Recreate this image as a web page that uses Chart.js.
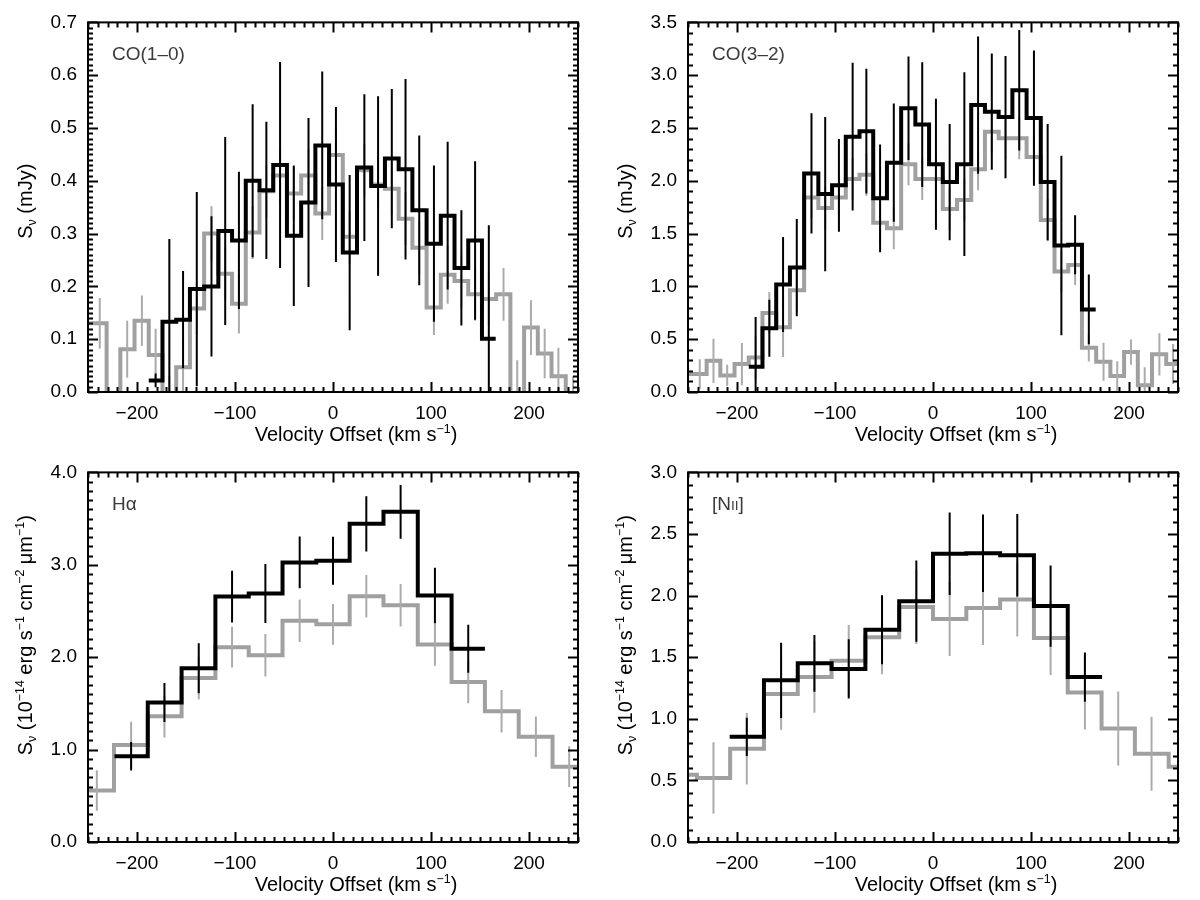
<!DOCTYPE html>
<html>
<head>
<meta charset="utf-8">
<title>Velocity profiles</title>
<script src="https://cdn.jsdelivr.net/npm/chart.js@4.4.1/dist/chart.umd.min.js"></script>
<style>
  body { margin: 0; background: #fff; }
  #wrap { position: relative; width: 1200px; height: 900px; }
  .panel { position: absolute; width: 600px; height: 450px; }
</style>
</head>
<body>
<div id="wrap">
  <div class="panel" style="left:0;top:0"><canvas id="co10" width="600" height="450"></canvas></div>
  <div class="panel" style="left:600px;top:0"><canvas id="co32" width="600" height="450"></canvas></div>
  <div class="panel" style="left:0;top:450px"><canvas id="ha" width="600" height="450"></canvas></div>
  <div class="panel" style="left:600px;top:450px"><canvas id="nii" width="600" height="450"></canvas></div>
</div>
<script>
const FONT = "'Liberation Sans', Arial, Helvetica, sans-serif";

// shared x axis
const VEL_TICKS = [-200, -100, 0, 100, 200];

// CO(1-0)
const CO10_Y_TICKS = [0.0, 0.1, 0.2, 0.3, 0.4, 0.5, 0.6, 0.7];
const CO10_BLACK_VEL = [-181, -167, -153, -139, -124, -110, -96, -82, -68, -54, -40, -25, -11, 3, 17, 32, 46, 60, 74, 88, 103, 117, 131, 145, 159];
const CO10_BLACK_FLUX = [0.022, 0.133, 0.137, 0.195, 0.200, 0.305, 0.287, 0.400, 0.382, 0.430, 0.296, 0.359, 0.467, 0.393, 0.264, 0.425, 0.390, 0.442, 0.422, 0.344, 0.281, 0.334, 0.235, 0.287, 0.101];
const CO10_BLACK_ERR = [0.013, 0.157, 0.092, 0.184, 0.133, 0.178, 0.130, 0.145, 0.130, 0.195, 0.133, 0.160, 0.140, 0.147, 0.147, 0.139, 0.170, 0.132, 0.171, 0.142, 0.148, 0.140, 0.109, 0.150, 0.215];
const CO10_GRAY_VEL = [-252, -238, -224, -210, -195, -181, -167, -153, -139, -124, -110, -96, -82, -68, -54, -40, -25, -11, 3, 17, 32, 46, 60, 74, 88, 103, 117, 131, 145, 159, 174, 188, 202, 216, 230, 245];
const CO10_GRAY_FLUX = [0.130, 0.130, -0.060, 0.081, 0.135, 0.070, -0.020, 0.047, 0.158, 0.300, 0.224, 0.167, 0.302, 0.380, 0.410, 0.376, 0.410, 0.338, 0.449, 0.294, 0.420, 0.393, 0.385, 0.328, 0.273, 0.160, 0.222, 0.210, 0.185, 0.176, 0.185, -0.020, 0.122, 0.073, 0.030, -0.020];
const CO10_GRAY_ERR = [0.050, 0.048, 0.050, 0.054, 0.048, 0.050, 0.050, 0.050, 0.050, 0.052, 0.050, 0.056, 0.050, 0.050, 0.050, 0.050, 0.050, 0.050, 0.050, 0.050, 0.050, 0.050, 0.050, 0.050, 0.050, 0.052, 0.055, 0.050, 0.050, 0.050, 0.050, 0.080, 0.052, 0.047, 0.054, 0.050];

// CO(3-2)
const CO32_Y_TICKS = [0.0, 0.5, 1.0, 1.5, 2.0, 2.5, 3.0, 3.5];
const CO32_BLACK_VEL = [-181, -167, -153, -139, -124, -110, -96, -82, -68, -54, -40, -25, -11, 3, 17, 32, 46, 60, 74, 88, 103, 117, 131, 145, 159];
const CO32_BLACK_FLUX = [0.24, 0.603, 1.018, 1.178, 2.07, 1.874, 1.957, 2.418, 2.47, 1.834, 2.172, 2.686, 2.532, 2.157, 1.988, 2.157, 2.717, 2.655, 2.603, 2.858, 2.594, 1.988, 1.388, 1.394, 0.782];
const CO32_BLACK_ERR = [0.47, 0.27, 0.45, 0.46, 0.57, 0.73, 0.44, 0.70, 0.59, 0.51, 0.56, 0.49, 0.59, 0.62, 0.55, 0.87, 0.65, 0.55, 0.58, 0.57, 0.64, 0.55, 0.85, 0.28, 0.33];
const CO32_GRAY_VEL = [-252, -238, -224, -210, -195, -181, -167, -153, -139, -124, -110, -96, -82, -68, -54, -40, -25, -11, 3, 17, 32, 46, 60, 74, 88, 103, 117, 131, 145, 159, 174, 188, 202, 216, 231, 245];
const CO32_GRAY_FLUX = [0.17, 0.17, 0.295, 0.157, 0.265, 0.326, 0.748, 0.612, 0.963, 1.843, 1.742, 1.843, 2.018, 2.058, 1.603, 1.551, 2.157, 2.018, 2.018, 1.732, 1.818, 2.11, 2.465, 2.403, 2.403, 2.225, 1.628, 1.142, 1.203, 0.418, 0.286, 0.151, 0.378, 0.065, 0.357, 0.265];
const CO32_GRAY_ERR = [0.15, 0.14, 0.21, 0.10, 0.20, 0.20, 0.20, 0.28, 0.20, 0.20, 0.20, 0.20, 0.20, 0.20, 0.20, 0.20, 0.20, 0.20, 0.20, 0.20, 0.20, 0.20, 0.20, 0.20, 0.20, 0.20, 0.20, 0.20, 0.19, 0.13, 0.18, 0.14, 0.12, 0.17, 0.20, 0.19];

// H-alpha
const HA_Y_TICKS = [0.0, 1.0, 2.0, 3.0, 4.0];
const HA_BLACK_VEL = [-206, -172, -137, -103, -69, -34, 0, 34, 69, 104, 138];
const HA_BLACK_FLUX = [0.928, 1.51, 1.88, 2.656, 2.69, 3.026, 3.044, 3.443, 3.573, 2.667, 2.092];
const HA_BLACK_ERR = [0.155, 0.21, 0.27, 0.28, 0.32, 0.28, 0.26, 0.30, 0.29, 0.30, 0.26];
const HA_GRAY_VEL = [-241, -206, -172, -137, -103, -69, -34, 0, 34, 69, 104, 138, 172, 207, 241];
const HA_GRAY_FLUX = [0.557, 1.051, 1.362, 1.774, 2.109, 2.021, 2.395, 2.356, 2.66, 2.561, 2.137, 1.732, 1.414, 1.139, 0.815];
const HA_GRAY_ERR = [0.22, 0.25, 0.23, 0.23, 0.22, 0.23, 0.23, 0.22, 0.23, 0.23, 0.23, 0.23, 0.23, 0.22, 0.22];

// [NII]
const NII_Y_TICKS = [0.0, 0.5, 1.0, 1.5, 2.0, 2.5, 3.0];
const NII_BLACK_VEL = [-190, -155, -121, -86, -52, -17, 17, 51, 86, 120, 155];
const NII_BLACK_FLUX = [0.854, 1.312, 1.45, 1.405, 1.722, 1.955, 2.339, 2.344, 2.328, 1.915, 1.339];
const NII_BLACK_ERR = [0.155, 0.305, 0.23, 0.24, 0.28, 0.33, 0.335, 0.315, 0.335, 0.33, 0.20];
const NII_GRAY_VEL = [-258, -224, -190, -155, -121, -86, -52, -17, 17, 51, 86, 120, 155, 189, 223, 258];
const NII_GRAY_FLUX = [0.545, 0.519, 0.757, 1.201, 1.339, 1.471, 1.661, 1.907, 1.81, 1.9, 1.968, 1.656, 1.214, 0.921, 0.717, 0.611];
const NII_GRAY_ERR = [0.29, 0.29, 0.29, 0.29, 0.29, 0.29, 0.30, 0.30, 0.30, 0.30, 0.30, 0.30, 0.30, 0.30, 0.30, 0.30];

// text pieces (sub/sup handled by the frame plugin)
const X_TITLE = [{t: 'Velocity Offset (km s'}, {t: '\u22121', sup: true}, {t: ')'}];
const CO_Y_TITLE = [{t: 'S'}, {t: '\u03bd', sub: true}, {t: ' (mJy)'}];
const LINE_Y_TITLE = [{t: 'S'}, {t: '\u03bd', sub: true}, {t: ' (10'}, {t: '\u221214', sup: true}, {t: ' erg s'}, {t: '\u22121', sup: true},
  {t: ' cm'}, {t: '\u22122', sup: true}, {t: ' \u03bcm'}, {t: '\u22121', sup: true}, {t: ')'}];

/**
 * Histogram outline: one point per left bin edge, plus the closing right edge
 */
function histPoints(vel, flux) {
  const pts = [];
  for (let i = 0; i < vel.length; i++) {
    const left = i === 0 ? vel[0] - (vel[1] - vel[0]) / 2 : (vel[i - 1] + vel[i]) / 2;
    pts.push({x: left, y: flux[i]});
  }
  const n = vel.length - 1;
  pts.push({x: vel[n] + (vel[n] - vel[n - 1]) / 2, y: flux[n]});
  return pts;
}

/**
 * Vertical error bars as broken line segments
 */
function errPoints(vel, flux, err) {
  const pts = [];
  vel.forEach((v, i) => {
    pts.push({x: v, y: flux[i] - err[i]}, {x: v, y: flux[i] + err[i]}, {x: v, y: null});
  });
  return pts;
}

function drawRuns(ctx, runs, x, y, size, center) {
  const parts = runs.map(r => {
    const s = (r.sub || r.sup) ? size * 0.62 : (r.small ? size * 0.72 : size);
    ctx.font = s + 'px ' + FONT;
    return {r, s, w: ctx.measureText(r.t).width};
  });
  const total = parts.reduce((a, p) => a + p.w, 0);
  let cx = center ? x - total / 2 : x;
  parts.forEach(p => {
    ctx.font = p.s + 'px ' + FONT;
    let dy = 0;
    if (p.r.sup) dy = -size * 0.40;
    if (p.r.sub) dy = size * 0.22;
    ctx.fillText(p.r.t, cx, y + dy);
    cx += p.w;
  });
}

// Box frame with inward major/minor ticks, axis titles and panel label
const panelFrame = {
  id: 'panelFrame',
  afterDatasetsDraw(chart, args, opts) {
    const {ctx, chartArea: a, scales: {x, y}} = chart;
    ctx.save();
    ctx.strokeStyle = '#000';
    ctx.lineWidth = 2;
    ctx.lineCap = 'butt';
    ctx.beginPath();

    const xn = Math.round((x.max - x.min) / 10);
    for (let i = 0; i <= xn; i++) {
      const v = x.min + i * 10;
      const len = v % 100 === 0 ? 10 : 5;
      const px = Math.round(x.getPixelForValue(v)) + 0.5;
      ctx.moveTo(px, a.bottom); ctx.lineTo(px, a.bottom - len);
      ctx.moveTo(px, a.top); ctx.lineTo(px, a.top + len);
    }
    const yn = Math.round((y.max - y.min) / opts.yMinor);
    const per = Math.round(opts.yMajor / opts.yMinor);
    for (let i = 0; i <= yn; i++) {
      const v = y.min + i * opts.yMinor;
      const len = i % per === 0 ? 10 : 5;
      const py = Math.round(y.getPixelForValue(v)) + 0.5;
      ctx.moveTo(a.left, py); ctx.lineTo(a.left + len, py);
      ctx.moveTo(a.right, py); ctx.lineTo(a.right - len, py);
    }
    ctx.stroke();
    ctx.strokeRect(a.left, a.top, a.right - a.left, a.bottom - a.top);

    ctx.fillStyle = '#000';
    ctx.textBaseline = 'alphabetic';
    drawRuns(ctx, X_TITLE, (a.left + a.right) / 2 + 23, a.bottom + 49, 20, true);

    ctx.save();
    ctx.translate(32, (a.top + a.bottom) / 2 - opts.yTitleShift);
    ctx.rotate(-Math.PI / 2);
    drawRuns(ctx, opts.yTitle, 0, 0, 20, true);
    ctx.restore();

    ctx.fillStyle = '#3a3a3a';
    drawRuns(ctx, opts.label, a.left + 24, a.top + 38, 19, false);
    ctx.restore();
  }
};

function makePanel(canvasId, p) {
  const ctx = document.getElementById(canvasId);
  return new Chart(ctx, {
    type: 'line',
    data: {
      datasets: [
        {
          data: errPoints(p.blackVel, p.blackFlux, p.blackErr),
          borderColor: '#000000',
          borderWidth: 2,
          clip: 0,
          order: 0
        },
        {
          data: histPoints(p.blackVel, p.blackFlux),
          borderColor: '#000000',
          borderWidth: 4,
          stepped: 'before',
          clip: 0,
          order: 1
        },
        {
          data: errPoints(p.grayVel, p.grayFlux, p.grayErr),
          borderColor: '#ababab',
          borderWidth: 2,
          clip: 0,
          order: 2
        },
        {
          data: histPoints(p.grayVel, p.grayFlux),
          borderColor: '#a0a0a0',
          borderWidth: 4,
          stepped: 'before',
          clip: 0,
          order: 3
        }
      ]
    },
    options: {
      responsive: false,
      animation: false,
      events: [],
      layout: {
        padding: {left: 0, top: 13, right: 22, bottom: 0}
      },
      elements: {
        point: {radius: 0},
        line: {tension: 0, fill: false, borderCapStyle: 'butt', borderJoinStyle: 'miter'}
      },
      plugins: {
        legend: {display: false},
        tooltip: {enabled: false},
        panelFrame: {
          yMajor: p.yTicks[1] - p.yTicks[0],
          yMinor: p.yMinor,
          yTitle: p.yTitle,
          yTitleShift: p.yTitleShift,
          label: p.label
        }
      },
      scales: {
        x: {
          type: 'linear',
          min: -250,
          max: 250,
          afterBuildTicks: s => { s.ticks = VEL_TICKS.map(v => ({value: v})); },
          afterFit: s => { s.height = 58; },
          grid: {display: false, drawTicks: false},
          border: {display: false},
          ticks: {
            padding: 10,
            color: '#000',
            maxRotation: 0,
            font: {family: FONT, size: 19},
            callback: v => String(v).replace('-', '\u2212')
          }
        },
        y: {
          type: 'linear',
          min: 0,
          max: p.yTicks[p.yTicks.length - 1],
          afterBuildTicks: s => { s.ticks = p.yTicks.map(v => ({value: v})); },
          afterFit: s => { s.width = 88; },
          grid: {display: false, drawTicks: false},
          border: {display: false},
          ticks: {
            padding: 11,
            color: '#000',
            font: {family: FONT, size: 19},
            callback: v => Number(v).toFixed(1)
          }
        }
      }
    },
    plugins: [panelFrame]
  });
}

makePanel('co10', {
  blackVel: CO10_BLACK_VEL, blackFlux: CO10_BLACK_FLUX, blackErr: CO10_BLACK_ERR,
  grayVel: CO10_GRAY_VEL, grayFlux: CO10_GRAY_FLUX, grayErr: CO10_GRAY_ERR,
  yTicks: CO10_Y_TICKS, yMinor: 0.01,
  yTitle: CO_Y_TITLE, yTitleShift: 6,
  label: [{t: 'CO(1\u20130)'}]
});

makePanel('co32', {
  blackVel: CO32_BLACK_VEL, blackFlux: CO32_BLACK_FLUX, blackErr: CO32_BLACK_ERR,
  grayVel: CO32_GRAY_VEL, grayFlux: CO32_GRAY_FLUX, grayErr: CO32_GRAY_ERR,
  yTicks: CO32_Y_TICKS, yMinor: 0.1,
  yTitle: CO_Y_TITLE, yTitleShift: 6,
  label: [{t: 'CO(3\u20132)'}]
});

makePanel('ha', {
  blackVel: HA_BLACK_VEL, blackFlux: HA_BLACK_FLUX, blackErr: HA_BLACK_ERR,
  grayVel: HA_GRAY_VEL, grayFlux: HA_GRAY_FLUX, grayErr: HA_GRAY_ERR,
  yTicks: HA_Y_TICKS, yMinor: 0.1,
  yTitle: LINE_Y_TITLE, yTitleShift: 22,
  label: [{t: 'H\u03b1'}]
});

makePanel('nii', {
  blackVel: NII_BLACK_VEL, blackFlux: NII_BLACK_FLUX, blackErr: NII_BLACK_ERR,
  grayVel: NII_GRAY_VEL, grayFlux: NII_GRAY_FLUX, grayErr: NII_GRAY_ERR,
  yTicks: NII_Y_TICKS, yMinor: 0.1,
  yTitle: LINE_Y_TITLE, yTitleShift: 22,
  label: [{t: '[N'}, {t: 'II', small: true}, {t: ']'}]
});
</script>
</body>
</html>
